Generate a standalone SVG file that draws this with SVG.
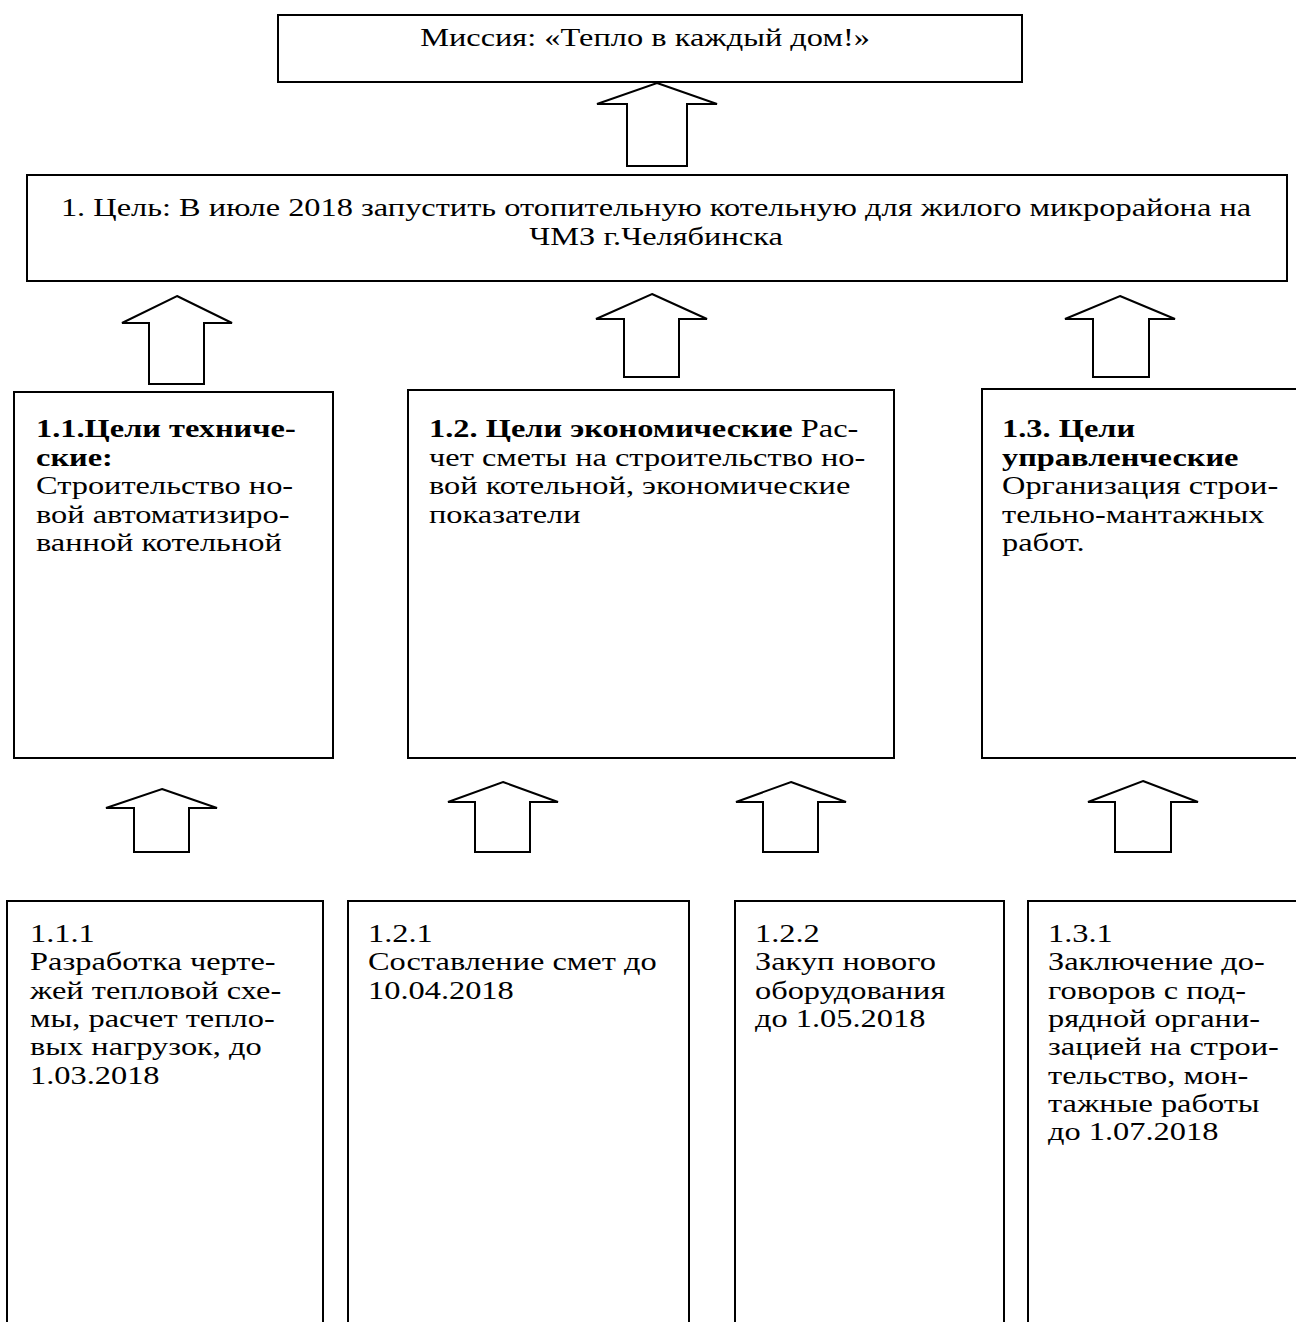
<svg xmlns="http://www.w3.org/2000/svg" width="1296" height="1322" viewBox="0 0 1296 1322">
<style>
.box{fill:#fff;stroke:#000;stroke-width:2}
.arr{fill:#fff;stroke:#000;stroke-width:2;stroke-linejoin:miter}
text{font-family:"Liberation Serif","Times New Roman",serif;font-size:25.6px;fill:#000}
.b{font-weight:bold}
</style>
<rect width="1296" height="1322" fill="#fff"/>
<g id="connectors">
<polygon class="arr" points="657,83 717,104 687,104 687,166 627,166 627,104 597,104"/>
<polygon class="arr" points="177,296 232,323 204,323 204,384 149,384 149,323 122,323"/>
<polygon class="arr" points="652,294 707,319 679,319 679,377 624,377 624,319 596,319"/>
<polygon class="arr" points="1120,296 1175,319 1149,319 1149,377 1093,377 1093,319 1065,319"/>
<polygon class="arr" points="162,789 217,808 189,808 189,852 134,852 134,808 106,808"/>
<polygon class="arr" points="503,782 558,802 530,802 530,852 475,852 475,802 448,802"/>
<polygon class="arr" points="791,782 846,802 818,802 818,852 763,852 763,802 736,802"/>
<polygon class="arr" points="1143,781 1198,802 1171,802 1171,852 1115,852 1115,802 1088,802"/>
</g>
<g id="mission">
<rect class="box" x="278" y="15" width="744" height="67"/>
<text transform="matrix(1.266 0 0 1 645 0)" text-anchor="middle"><tspan x="0" y="46">Миссия: «Тепло в каждый дом!»</tspan></text>
</g>
<g id="goal">
<rect class="box" x="27" y="175" width="1260" height="106"/>
<text transform="matrix(1.266 0 0 1 656 0)" text-anchor="middle"><tspan x="0" y="216">1. Цель: В июле 2018 запустить отопительную котельную для жилого микрорайона на</tspan><tspan x="0" y="245">ЧМЗ г.Челябинска</tspan></text>
</g>
<g id="goal-1-1">
<rect class="box" x="14" y="392" width="319" height="366"/>
<text transform="matrix(1.266 0 0 1 36 0)"><tspan class="b" x="0" y="437">1.1.Цели техниче-</tspan><tspan class="b" x="0" y="466">ские:</tspan><tspan x="0" y="494">Строительство но-</tspan><tspan x="0" y="523">вой автоматизиро-</tspan><tspan x="0" y="551">ванной котельной</tspan></text>
</g>
<g id="goal-1-2">
<rect class="box" x="408" y="390" width="486" height="368"/>
<text transform="matrix(1.266 0 0 1 429 0)"><tspan x="0" y="437"><tspan class="b">1.2. Цели экономические</tspan> Рас-</tspan><tspan x="0" y="466">чет сметы на строительство но-</tspan><tspan x="0" y="494">вой котельной, экономические</tspan><tspan x="0" y="523">показатели</tspan></text>
</g>
<g id="goal-1-3">
<rect class="box" x="982" y="389" width="320" height="369"/>
<text transform="matrix(1.266 0 0 1 1002 0)"><tspan class="b" x="0" y="437">1.3. Цели</tspan><tspan class="b" x="0" y="466">управленческие</tspan><tspan x="0" y="494">Организация строи-</tspan><tspan x="0" y="523">тельно-мантажных</tspan><tspan x="0" y="551">работ.</tspan></text>
</g>
<g id="task-1-1-1">
<rect class="box" x="7" y="901" width="316" height="440"/>
<text transform="matrix(1.266 0 0 1 30 0)"><tspan x="0" y="942">1.1.1</tspan><tspan x="0" y="970">Разработка черте-</tspan><tspan x="0" y="999">жей тепловой схе-</tspan><tspan x="0" y="1027">мы, расчет тепло-</tspan><tspan x="0" y="1055">вых нагрузок, до</tspan><tspan x="0" y="1084">1.03.2018</tspan></text>
</g>
<g id="task-1-2-1">
<rect class="box" x="348" y="901" width="341" height="440"/>
<text transform="matrix(1.266 0 0 1 368 0)"><tspan x="0" y="942">1.2.1</tspan><tspan x="0" y="970">Составление смет до</tspan><tspan x="0" y="999">10.04.2018</tspan></text>
</g>
<g id="task-1-2-2">
<rect class="box" x="735" y="901" width="269" height="440"/>
<text transform="matrix(1.266 0 0 1 755 0)"><tspan x="0" y="942">1.2.2</tspan><tspan x="0" y="970">Закуп нового</tspan><tspan x="0" y="999">оборудования</tspan><tspan x="0" y="1027">до 1.05.2018</tspan></text>
</g>
<g id="task-1-3-1">
<rect class="box" x="1028" y="901" width="280" height="440"/>
<text transform="matrix(1.266 0 0 1 1048 0)"><tspan x="0" y="942">1.3.1</tspan><tspan x="0" y="970">Заключение до-</tspan><tspan x="0" y="999">говоров с под-</tspan><tspan x="0" y="1027">рядной органи-</tspan><tspan x="0" y="1055">зацией на строи-</tspan><tspan x="0" y="1084">тельство, мон-</tspan><tspan x="0" y="1112">тажные работы</tspan><tspan x="0" y="1140">до 1.07.2018</tspan></text>
</g>
</svg>
